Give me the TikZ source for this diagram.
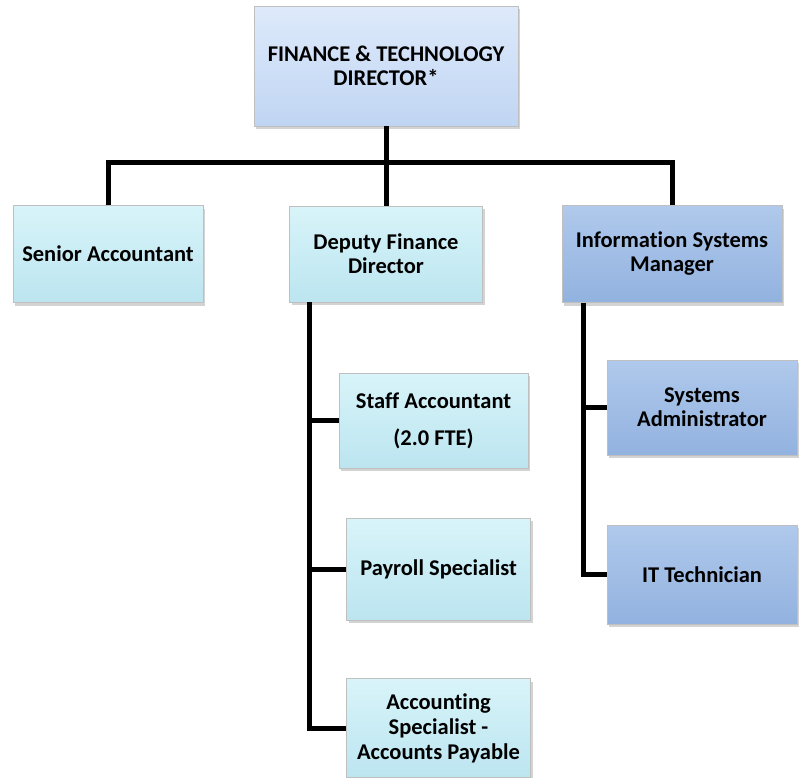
\documentclass[tikz,border=0pt]{standalone}
\usepackage{fontspec}
\setmainfont{Carlito}[Ligatures=NoCommon]
\usetikzlibrary{shadows}
\definecolor{periTop}{RGB}{222,234,251}
\definecolor{periBot}{RGB}{192,213,243}
\definecolor{aquaTop}{RGB}{216,244,249}
\definecolor{aquaBot}{RGB}{188,229,240}
\definecolor{steelTop}{RGB}{176,201,236}
\definecolor{steelBot}{RGB}{146,178,223}
\tikzstyle{block} = [rectangle, draw=black!25, line width=0.4pt, align=center,
      font=\bfseries\fontsize{22.5}{24}\selectfont, inner sep=2pt,
      drop shadow={opacity=0.35, shadow xshift=2pt, shadow yshift=-3pt}]
\tikzstyle{head} = [block, top color=periTop, bottom color=periBot]
\tikzstyle{fin} = [block, top color=aquaTop, bottom color=aquaBot]
\tikzstyle{tech} = [block, top color=steelTop, bottom color=steelBot]
\tikzstyle{line} = [draw, line width=5pt]
\begin{document}
\begin{tikzpicture}[x=1pt, y=-1pt]
	  \useasboundingbox (0,0) rectangle (799,777);
	  % Nodes
	  \node [head, minimum width=264pt, minimum height=120pt] (director) at (386,66) {FINANCE \& TECHNOLOGY\\DIRECTOR*};
	  \node [fin, below of=director, node distance=188pt, minimum width=193pt, minimum height=96pt] (deputy) {Deputy Finance\\Director};
	  \node [fin, left of=deputy, node distance=278pt, minimum width=190pt, minimum height=97pt] (senior) {Senior Accountant};
	  \node [tech, right of=deputy, node distance=286pt, minimum width=220pt, minimum height=97pt] (ism) {Information Systems\\Manager};
	  \node [fin, minimum width=189pt, minimum height=95pt] (staff) at (433.5,420.5) {Staff Accountant\\[13pt](2.0 FTE)};
	  \node [fin, below of=staff, xshift=5pt, node distance=148.5pt, minimum width=184pt, minimum height=102pt] (payroll) {Payroll Specialist};
	  \node [fin, below of=payroll, node distance=159pt, minimum width=184pt, minimum height=99pt, font=\bfseries\fontsize{22.5}{25}\selectfont] (acctpay) {Accounting\\Specialist -\\Accounts Payable};
	  \node [tech, minimum width=190pt, minimum height=95pt] (sysadmin) at (702,407.5) {Systems\\Administrator};
	  \node [tech, below of=sysadmin, node distance=167pt, minimum width=190pt, minimum height=99pt] (ittech) {IT Technician};
	  % Top level
	  \coordinate (hub) at (386,162);
	  \path [line] (director) -- (deputy);
	  \path [line] (senior.north) |- (hub) -| (ism.north);
	  % Finance branch
	  \path [line] (309,0 |- deputy.south) |- (acctpay.west);
	  \path [line] (309,0 |- staff.west) -- (staff.west);
	  \path [line] (309,0 |- payroll.west) -- (payroll.west);
	  % Systems branch
	  \path [line] (583,0 |- ism.south) |- (ittech.west);
	  \path [line] (583,0 |- sysadmin.west) -- (sysadmin.west);
\end{tikzpicture}
\end{document}
